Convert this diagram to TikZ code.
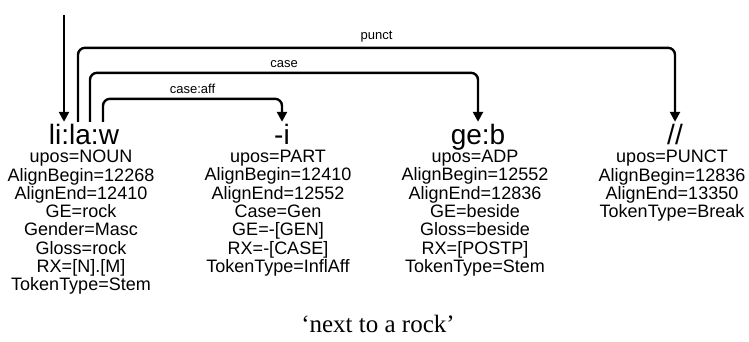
\documentclass[tikz,border=0pt]{standalone}
\usepackage{fontspec}
\setmainfont{Liberation Sans}
\newfontfamily\capfont{Liberation Serif}
\usetikzlibrary{arrows.meta}
\begin{document}
\begin{tikzpicture}[x=1pt,y=-1pt,
  word/.style={anchor=base, font=\fontsize{28}{28}\selectfont, inner xsep=0pt, inner ysep=2pt, text height=20pt, text depth=0pt},
  attrs/.style={anchor=north, align=center, font=\fontsize{18}{18.3}\selectfont, inner sep=0pt},
  dep/.style={line width=2.4pt, rounded corners=7pt, -{Triangle[length=10pt,width=10pt]}},
  lab/.style={font=\fontsize{13}{13}\selectfont, above, inner sep=4pt}]
\useasboundingbox (0,0) rectangle (749,341);

\node[word] (w1) at (84,144) {li:la:w};
\node[word] (w2) at (282,144) {-i};
\node[word] (w3) at (478,144) {ge:b};
\node[word] (w4) at (675,144) {//};

\node[attrs] (a1) at (81,150) {upos=NOUN\\AlignBegin=12268\\AlignEnd=12410\\GE=rock\\Gender=Masc\\Gloss=rock\\RX=[N].[M]\\TokenType=Stem};
\node[attrs] (a2) at (278,150) {upos=PART\\AlignBegin=12410\\AlignEnd=12552\\Case=Gen\\GE=-[GEN]\\RX=-[CASE]\\TokenType=InflAff};
\node[attrs] (a3) at (475,150) {upos=ADP\\AlignBegin=12552\\AlignEnd=12836\\GE=beside\\Gloss=beside\\RX=[POSTP]\\TokenType=Stem};
\node[attrs] (a4) at (672,150) {upos=PUNCT\\AlignBegin=12836\\AlignEnd=13350\\TokenType=Break};

\coordinate (root) at (64,15);
\draw[dep] (root) -- (root |- w1.north);

\draw[dep] ([xshift=-6pt]w1.north) -- ++(0,-74) -| node[lab, pos=0.25] {punct} (w4.north);
\draw[dep] ([xshift=6pt]w1.north) -- ++(0,-49) -| node[lab, pos=0.25] {case} (w3.north);
\draw[dep] ([xshift=19pt]w1.north) -- ++(0,-23) -| node[lab, pos=0.25] {case:aff} (w2.north);

\node[anchor=base, font=\capfont\fontsize{25}{25}\selectfont] (cap) at (378,332) {‘next to a rock’};
\end{tikzpicture}
\end{document}
